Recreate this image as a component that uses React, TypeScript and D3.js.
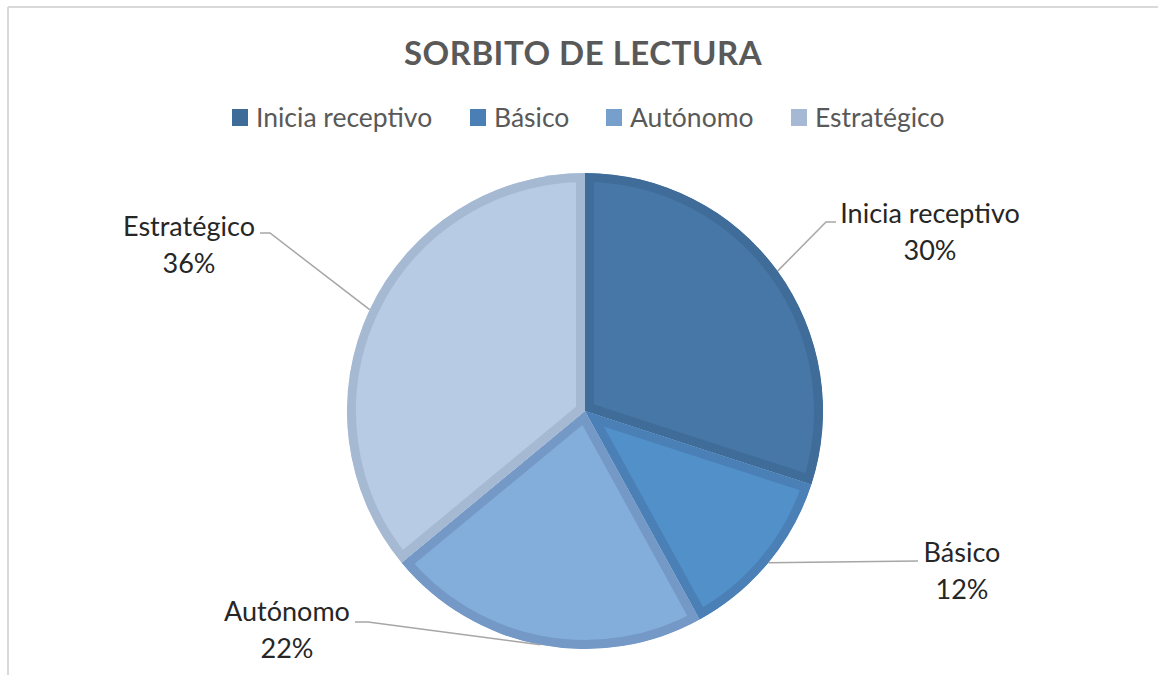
import React from 'react';
import * as d3 from 'd3';

const title = 'SORBITO DE LECTURA';
const categories = ['Inicia receptivo', 'Básico', 'Autónomo', 'Estratégico'];
const values = [30, 12, 22, 36];
const percentLabels = ['30%', '12%', '22%', '36%'];
const fillColors = ['#4677A6', '#5190C8', '#83ADDA', '#B7CBE5'];
const edgeColors = ['#3F6C98', '#4A80B6', '#7599C6', '#A6B9D3'];
const legendColors = ['#3E6B98', '#4A7FB5', '#779FCC', '#A5B9D4'];

const FONT = "Lato, 'Open Sans', sans-serif";

export default function App() {
  const W = 1158, H = 675;
  const cx = 585, cy = 411, r = 238;
  const pie = d3.pie<number>().sort(null).value((d) => d);
  const arcs = pie(values);
  const arc = d3.arc<d3.PieArcDatum<number>>().innerRadius(0).outerRadius(r);

  // label layout (text center x, first baseline y, elbow point, end point)
  const labelLayout = [
    { tx: 930, ty: 223, elbow: [826, 222], end: [836, 222] },
    { tx: 962, ty: 562, elbow: [918, 561], end: [918, 561] },
    { tx: 287, ty: 621, elbow: [368, 622], end: [355, 622] },
    { tx: 189, ty: 236, elbow: [270, 233], end: [260, 233] },
  ];

  const legendX = [232, 470, 606, 791];

  return (
    <svg width={W} height={H} style={{ position: 'absolute', left: 0, top: 0, background: '#fff' }}>
      <rect x={0} y={0} width={W} height={H} fill="#fff" />
      <line x1={8} y1={7} x2={8} y2={H} stroke="#D9D9D9" strokeWidth={2} />
      <line x1={8} y1={7} x2={W} y2={7} stroke="#D9D9D9" strokeWidth={2} />

      <text x={583} y={65} textAnchor="middle" fontFamily={FONT} fontWeight={700} fontSize={33} fill="#595959" letterSpacing={0.5}>
        {title}
      </text>

      {categories.map((c, i) => (
        <g key={c}>
          <rect x={legendX[i]} y={109} width={16} height={17} fill={legendColors[i]} />
          <text x={legendX[i] + 24} y={127} fontFamily={FONT} fontSize={26.5} fill="#595959">{c}</text>
        </g>
      ))}

      <defs>
        {arcs.map((a, i) => (
          <clipPath id={`slice-clip-${i}`} key={i}>
            <path d={arc(a) || ''} />
          </clipPath>
        ))}
      </defs>

      <g transform={`translate(${cx},${cy})`}>
        {arcs.map((a, i) => (
          <path
            key={i}
            d={arc(a) || ''}
            fill={fillColors[i]}
            stroke={edgeColors[i]}
            strokeWidth={18}
            strokeLinejoin="miter"
            clipPath={`url(#slice-clip-${i})`}
          />
        ))}
      </g>

      {arcs.map((a, i) => {
        const mid = (a.startAngle + a.endAngle) / 2;
        const sx = cx + r * Math.sin(mid);
        const sy = cy - r * Math.cos(mid);
        const L = labelLayout[i];
        return (
          <g key={`lab${i}`}>
            <polyline
              points={`${sx},${sy} ${L.elbow[0]},${L.elbow[1]} ${L.end[0]},${L.end[1]}`}
              fill="none"
              stroke="#A6A6A6"
              strokeWidth={1.5}
            />
            <text x={L.tx} y={L.ty} textAnchor="middle" fontFamily={FONT} fontSize={27} fill="#262626">{categories[i]}</text>
            <text x={L.tx} y={L.ty + 37} textAnchor="middle" fontFamily={FONT} fontSize={27} fill="#262626">{percentLabels[i]}</text>
          </g>
        );
      })}
    </svg>
  );
}
